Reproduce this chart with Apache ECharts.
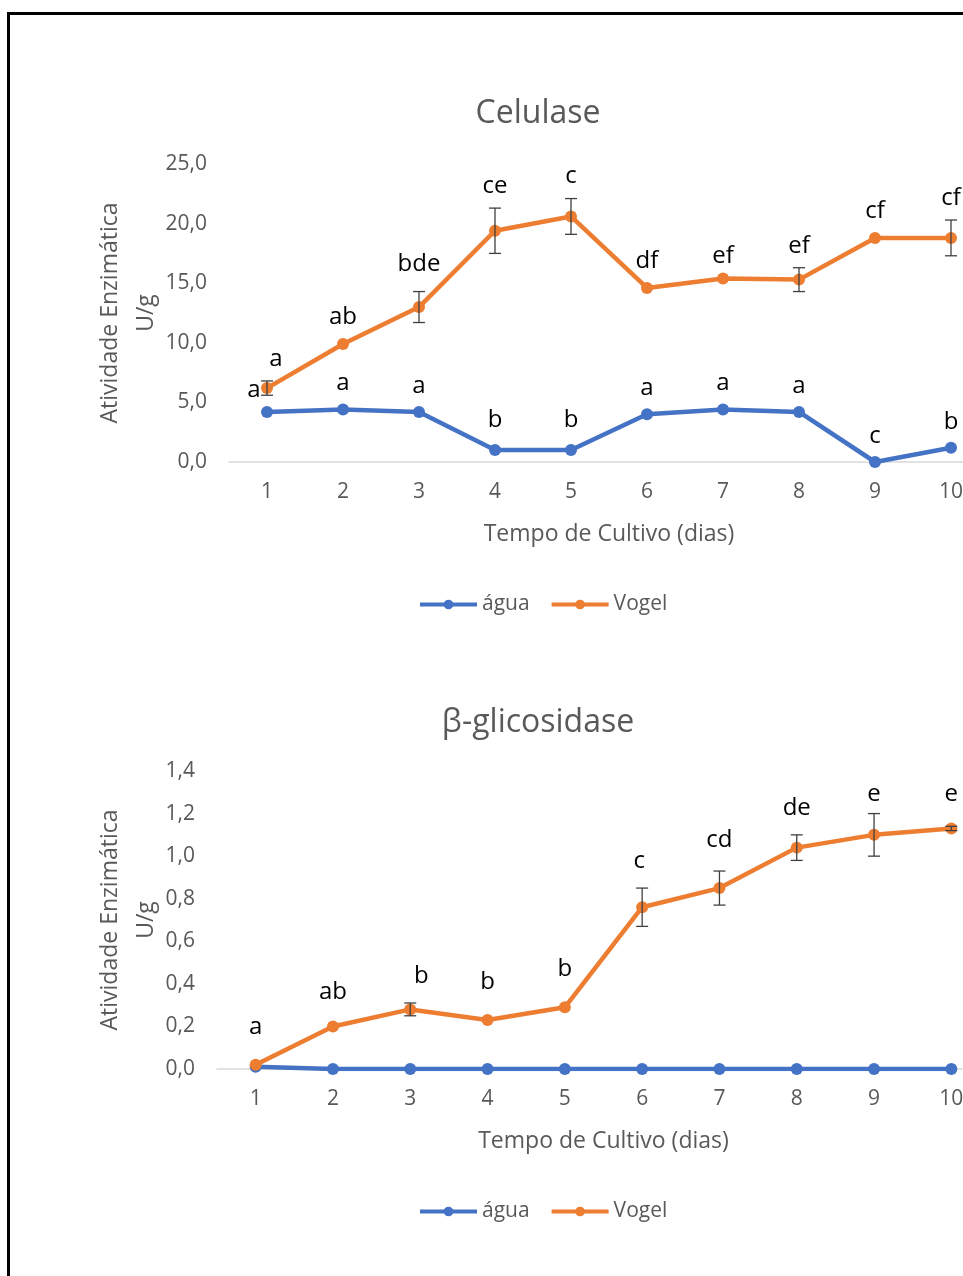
<!DOCTYPE html>
<html>
<head>
<meta charset="utf-8">
<script src="https://cdn.jsdelivr.net/npm/echarts@6/dist/echarts.min.js"></script>
<style>
  html, body { margin: 0; padding: 0; background: #fff; overflow: hidden; width: 963px; height: 1276px; }
  #frame { position: absolute; left: 7px; top: 12px; width: 1200px; height: 1400px; border: 3px solid #000; box-sizing: border-box; }
  #chart { position: absolute; left: 0; top: 0; width: 1100px; height: 1276px; }
</style>
</head>
<body>
<div id="frame"></div>
<div id="chart"></div>
<script>
// Days of cultivation
const days = ['1', '2', '3', '4', '5', '6', '7', '8', '9', '10'];

// Celulase (U/g)
const celAgua = [4.2, 4.4, 4.2, 1.0, 1.0, 4.0, 4.4, 4.2, 0.0, 1.2];
const celAguaErr = [0, 0, 0, 0, 0, 0, 0, 0, 0, 0];
const celAguaLetters = ['a', 'a', 'a', 'b', 'b', 'a', 'a', 'a', 'c', 'b'];
const celVogel = [6.2, 9.9, 13.0, 19.4, 20.6, 14.6, 15.4, 15.3, 18.8, 18.8];
const celVogelErr = [0.6, 0, 1.3, 1.9, 1.5, 0, 0, 1.0, 0, 1.5];
const celVogelLetters = ['a', 'ab', 'bde', 'ce', 'c', 'df', 'ef', 'ef', 'cf', 'cf'];

// β-glicosidase (U/g)
const gliAgua = [0.01, 0, 0, 0, 0, 0, 0, 0, 0, 0];
const gliVogel = [0.02, 0.20, 0.28, 0.23, 0.29, 0.76, 0.85, 1.04, 1.10, 1.13];
const gliVogelErr = [0, 0, 0.03, 0, 0, 0.09, 0.08, 0.06, 0.10, 0.01];
const gliVogelLetters = ['a', 'ab', 'b', 'b', 'b', 'c', 'cd', 'de', 'e', 'e'];

const BLUE = '#4472C4';
const ORANGE = '#ED7D31';
const GREY = '#595959';
const FONT = 'Open Sans';

// small manual nudges of individual letter labels [dx, dy]
const nudge = {
  'cA0': [-13, 4],
  'cA3': [0, -4],
  'cA4': [0, -4],
  'cV0': [9, 0],
  'cV2': [0, -5],
  'cV6': [0, 5],
  'gV1': [0, 4],
  'gV2': [11, 5],
  'gV5': [-3, 0],
  'gV6': [0, -4],
  'gV8': [0, 8],
  'gV9': [0, 4]
};

function comma(v) { return v.toFixed(1).replace('.', ','); }

function lineSeries(name, color, xi, data) {
  return {
    type: 'line', name: name, xAxisIndex: xi, yAxisIndex: xi, data: data,
    symbol: 'circle', symbolSize: 12, showSymbol: true,
    lineStyle: { width: 4.5, color: color }, itemStyle: { color: color },
    emphasis: { disabled: true }, z: 2
  };
}

// error whiskers and significance letters
// gapBar: label distance above a whisker top, gapPt: above a bare point
function markSeries(key, xi, values, errs, letters, gapBar, gapPt) {
  return {
    type: 'custom', xAxisIndex: xi, yAxisIndex: xi, z: 4, silent: true,
    data: values.map((v, i) => [i, v, errs[i]]),
    encode: { x: 0, y: 1 },
    renderItem: function (params, api) {
      const i = api.value(0), v = api.value(1), e = api.value(2);
      const c = api.coord([i, v]);
      const children = [];
      let labelY = c[1] - gapPt;
      if (e > 0) {
        const t = api.coord([i, v + e]), b = api.coord([i, v - e]);
        labelY = Math.min(labelY, t[1] - gapBar);
        const st = { stroke: '#404040', lineWidth: 1.3 };
        children.push({ type: 'line', shape: { x1: c[0], y1: t[1], x2: c[0], y2: b[1] }, style: st });
        children.push({ type: 'line', shape: { x1: c[0] - 6, y1: t[1], x2: c[0] + 6, y2: t[1] }, style: st });
        children.push({ type: 'line', shape: { x1: c[0] - 6, y1: b[1], x2: c[0] + 6, y2: b[1] }, style: st });
      }
      if (letters) {
        const n = nudge[key + i] || [0, 0];
        children.push({
          type: 'text',
          style: {
            text: letters[i], x: c[0] + n[0], y: labelY + n[1],
            align: 'center', verticalAlign: 'middle',
            fill: '#000', fontSize: 24, fontFamily: FONT
          }
        });
      }
      return { type: 'group', children: children };
    }
  };
}

function xAxis(gi) {
  return {
    type: 'category', gridIndex: gi, data: days, boundaryGap: true,
    axisLine: { lineStyle: { color: '#d9d9d9', width: 1.5 } },
    axisTick: { show: false },
    axisLabel: { color: GREY, fontSize: 21, fontFamily: FONT, margin: 20 },
    name: 'Tempo de Cultivo (dias)', nameLocation: 'middle', nameGap: 61,
    nameMoveOverlap: false,
    nameTextStyle: { color: GREY, fontSize: 23, fontFamily: FONT }
  };
}

function yAxis(gi, max, interval, gap) {
  return {
    type: 'value', gridIndex: gi, min: 0, max: max, interval: interval,
    splitLine: { show: false }, axisLine: { show: false }, axisTick: { show: false },
    axisLabel: { color: GREY, fontSize: 21, fontFamily: FONT, margin: 22, formatter: comma },
    name: 'Atividade Enzimática\nU/g', nameLocation: 'middle', nameRotate: 90, nameGap: gap,
    nameMoveOverlap: false,
    nameTextStyle: { color: GREY, fontSize: 23, fontFamily: FONT, lineHeight: 36, align: 'center' }
  };
}

function legend(top) {
  return {
    data: ['água', 'Vogel'], left: 418, top: top, padding: 0,
    itemWidth: 57, itemHeight: 12, itemGap: 20,
    lineStyle: { width: 4 },
    textStyle: { color: GREY, fontSize: 21, fontFamily: FONT }
  };
}

const chart = echarts.init(document.getElementById('chart'), null, { renderer: 'canvas' });
chart.setOption({
  animation: false,
  backgroundColor: 'transparent',
  graphic: [
    { type: 'text', x: 538, y: 114, style: { text: 'Celulase', align: 'center', verticalAlign: 'middle', fill: GREY, fontSize: 32, fontFamily: FONT } },
    { type: 'text', x: 538, y: 723, style: { text: 'β-glicosidase', align: 'center', verticalAlign: 'middle', fill: GREY, fontSize: 32, fontFamily: FONT } }
  ],
  legend: [legend(594), legend(1201)],
  grid: [
    { left: 229, top: 164, width: 760, height: 298 },
    { left: 217, top: 771, width: 773, height: 298 }
  ],
  xAxis: [xAxis(0), xAxis(1)],
  yAxis: [yAxis(0, 25, 5, 65), yAxis(1, 1.4, 0.2, 53)],
  series: [
    lineSeries('água', BLUE, 0, celAgua),
    lineSeries('Vogel', ORANGE, 0, celVogel),
    markSeries('cA', 0, celAgua, celAguaErr, celAguaLetters, 24, 26),
    markSeries('cV', 0, celVogel, celVogelErr, celVogelLetters, 22, 27),
    lineSeries('água', BLUE, 1, gliAgua),
    lineSeries('Vogel', ORANGE, 1, gliVogel),
    markSeries('gV', 1, gliVogel, gliVogelErr, gliVogelLetters, 27, 38)
  ]
});
</script>
</body>
</html>
